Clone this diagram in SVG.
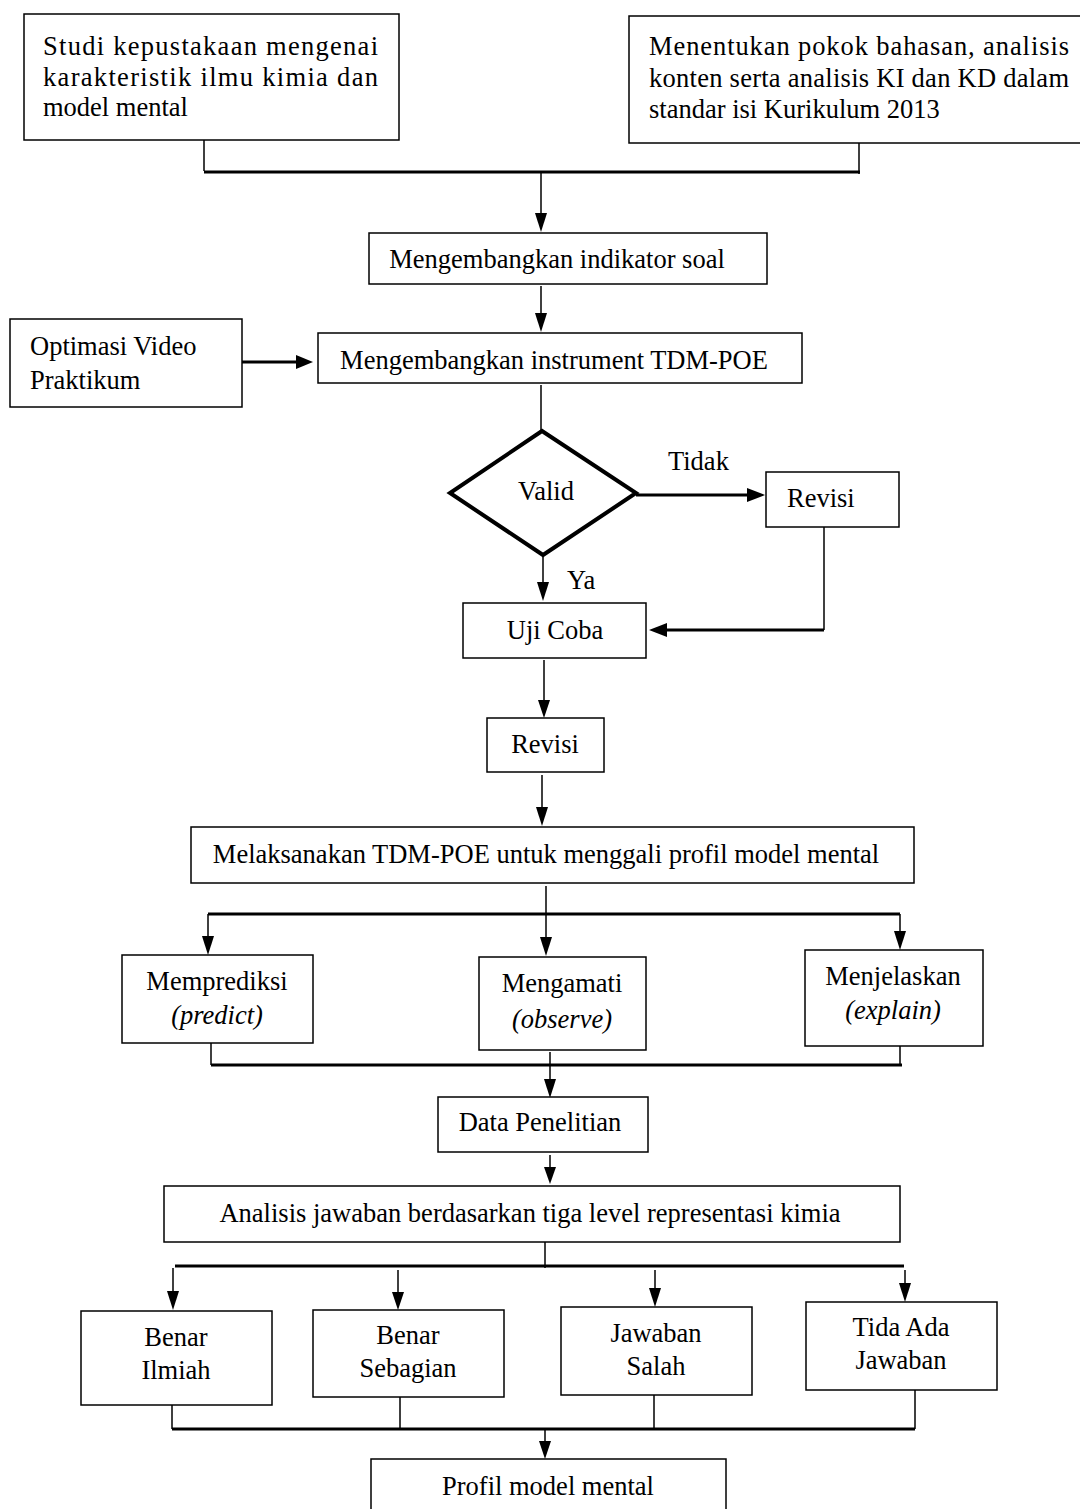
<svg xmlns="http://www.w3.org/2000/svg" width="1080" height="1509" viewBox="0 0 1080 1509">
<style>
.box{fill:#fff;stroke:#000;stroke-width:1.5}
.dia{fill:#fff;stroke:#000;stroke-width:4;stroke-linejoin:miter}
.t{font-family:"Liberation Serif","Times New Roman",serif;font-size:26.5px;fill:#000}
.c{text-anchor:middle}
.i{font-style:italic}
.ln{fill:none;stroke:#000;stroke-width:1.5}
.hl{fill:none;stroke:#000;stroke-width:3}
.ah{fill:#000}
</style>
<rect width="1080" height="1509" fill="#fff"/>

<g id="connectors">
<path class="ln" d="M204,140 V171"/>
<path class="ln" d="M859,143 V174"/>
<path class="hl" d="M204,172 H860"/>
<path class="ln" d="M541,172 V214"/>
<path class="ah" d="M535,213 L547,213 L541,232 Z"/>
<path class="ln" d="M541,286 V314"/>
<path class="ah" d="M535,313 L547,313 L541,332 Z"/>
<path class="hl" d="M242,362 H297"/>
<path class="ah" d="M296,355 L296,369 L313,362 Z"/>
<path class="ln" d="M541,385 V430"/>
<path class="hl" d="M636,495 H748"/>
<path class="ah" d="M747,488 L747,502 L765,495 Z"/>
<path class="ln" d="M824,527 V630"/>
<path class="hl" d="M824,630 H666"/>
<path class="ah" d="M667,623 L667,637 L649,630 Z"/>
<path class="ln" d="M543,557 V583"/>
<path class="ah" d="M537,582 L549,582 L543,601 Z"/>
<path class="ln" d="M544,660 V701"/>
<path class="ah" d="M538,700 L550,700 L544,718 Z"/>
<path class="ln" d="M542,775 V808"/>
<path class="ah" d="M536,807 L548,807 L542,826 Z"/>
<path class="ln" d="M546,886 V938"/>
<path class="hl" d="M208,914 H900"/>
<path class="ln" d="M208,914 V937"/>
<path class="ah" d="M202,936 L214,936 L208,955 Z"/>
<path class="ah" d="M540,937 L552,937 L546,956 Z"/>
<path class="ln" d="M900,914 V932"/>
<path class="ah" d="M894,931 L906,931 L900,950 Z"/>
<path class="ln" d="M211,1043 V1065"/>
<path class="ln" d="M550,1052 V1080"/>
<path class="ln" d="M900,1046 V1065"/>
<path class="hl" d="M211,1065 H902"/>
<path class="ah" d="M544,1079 L556,1079 L550,1098 Z"/>
<path class="ln" d="M550,1155 V1168"/>
<path class="ah" d="M544,1167 L556,1167 L550,1184 Z"/>
<path class="ln" d="M545,1242 V1268"/>
<path class="hl" d="M175,1266 H904"/>
<path class="ln" d="M173,1268 V1292"/>
<path class="ah" d="M167,1291 L179,1291 L173,1310 Z"/>
<path class="ln" d="M398,1270 V1293"/>
<path class="ah" d="M392,1292 L404,1292 L398,1310 Z"/>
<path class="ln" d="M655,1270 V1289"/>
<path class="ah" d="M649,1288 L661,1288 L655,1307 Z"/>
<path class="ln" d="M905,1270 V1284"/>
<path class="ah" d="M899,1283 L911,1283 L905,1302 Z"/>
<path class="ln" d="M172,1405 V1429"/>
<path class="ln" d="M400,1397 V1429"/>
<path class="ln" d="M654,1395 V1429"/>
<path class="ln" d="M915,1390 V1429"/>
<path class="hl" d="M172,1429 H915"/>
<path class="ln" d="M545,1429 V1442"/>
<path class="ah" d="M539,1441 L551,1441 L545,1459 Z"/>
</g>

<g id="n-studi">
<rect class="box" x="24" y="14" width="375" height="126"/>
<text class="t" x="43" y="55" textLength="335" lengthAdjust="spacing">Studi kepustakaan mengenai</text>
<text class="t" x="43" y="86" textLength="335" lengthAdjust="spacing">karakteristik ilmu kimia dan</text>
<text class="t" x="43" y="116">model mental</text>
</g>

<g id="n-menentukan">
<rect class="box" x="629" y="16" width="460" height="127"/>
<text class="t" x="649" y="55" textLength="420" lengthAdjust="spacing">Menentukan pokok bahasan, analisis</text>
<text class="t" x="649" y="87" textLength="420" lengthAdjust="spacing">konten serta analisis KI dan KD dalam</text>
<text class="t" x="649" y="118">standar isi Kurikulum 2013</text>
</g>

<g id="n-indikator">
<rect class="box" x="369" y="233" width="398" height="51"/>
<text class="t c" x="557" y="268">Mengembangkan indikator soal</text>
</g>

<g id="n-optimasi">
<rect class="box" x="10" y="319" width="232" height="88"/>
<text class="t" x="30" y="355">Optimasi Video</text>
<text class="t" x="30" y="389">Praktikum</text>
</g>

<g id="n-instrument">
<rect class="box" x="318" y="333" width="484" height="50"/>
<text class="t c" x="554" y="369">Mengembangkan instrument TDM-POE</text>
</g>

<g id="n-valid">
<polygon class="dia" points="542,431 636,493 543,555 450,493"/>
<text class="t c" x="546" y="500">Valid</text>
</g>

<text class="t" x="668" y="470">Tidak</text>
<text class="t" x="567" y="589">Ya</text>

<g id="n-revisi1">
<rect class="box" x="766" y="472" width="133" height="55"/>
<text class="t" x="787" y="507">Revisi</text>
</g>

<g id="n-ujicoba">
<rect class="box" x="463" y="603" width="183" height="55"/>
<text class="t c" x="555" y="639">Uji Coba</text>
</g>

<g id="n-revisi2">
<rect class="box" x="487" y="718" width="117" height="54"/>
<text class="t c" x="545" y="753">Revisi</text>
</g>

<g id="n-melaksanakan">
<rect class="box" x="191" y="827" width="723" height="56"/>
<text class="t c" x="546" y="863">Melaksanakan TDM-POE untuk menggali profil model mental</text>
</g>

<g id="n-memprediksi">
<rect class="box" x="122" y="955" width="191" height="88"/>
<text class="t c" x="217" y="990">Memprediksi</text>
<text class="t c i" x="217" y="1024">(predict)</text>
</g>

<g id="n-mengamati">
<rect class="box" x="479" y="957" width="167" height="93"/>
<text class="t c" x="562" y="992">Mengamati</text>
<text class="t c i" x="562" y="1028">(observe)</text>
</g>

<g id="n-menjelaskan">
<rect class="box" x="805" y="950" width="178" height="96"/>
<text class="t c" x="893" y="985">Menjelaskan</text>
<text class="t c i" x="893" y="1019">(explain)</text>
</g>

<g id="n-data">
<rect class="box" x="438" y="1097" width="210" height="55"/>
<text class="t c" x="540" y="1131">Data Penelitian</text>
</g>

<g id="n-analisis">
<rect class="box" x="164" y="1186" width="736" height="56"/>
<text class="t c" x="530" y="1222">Analisis jawaban berdasarkan tiga level representasi kimia</text>
</g>

<g id="n-benar-ilmiah">
<rect class="box" x="81" y="1311" width="191" height="94"/>
<text class="t c" x="176" y="1346">Benar</text>
<text class="t c" x="176" y="1379">Ilmiah</text>
</g>

<g id="n-benar-sebagian">
<rect class="box" x="313" y="1310" width="191" height="87"/>
<text class="t c" x="408" y="1344">Benar</text>
<text class="t c" x="408" y="1377">Sebagian</text>
</g>

<g id="n-jawaban-salah">
<rect class="box" x="561" y="1307" width="191" height="88"/>
<text class="t c" x="656" y="1342">Jawaban</text>
<text class="t c" x="656" y="1375">Salah</text>
</g>

<g id="n-tida-ada">
<rect class="box" x="806" y="1302" width="191" height="88"/>
<text class="t c" x="901" y="1336">Tida Ada</text>
<text class="t c" x="901" y="1369">Jawaban</text>
</g>

<g id="n-profil">
<rect class="box" x="371" y="1459" width="355" height="60"/>
<text class="t c" x="548" y="1495">Profil model mental</text>
</g>
</svg>
